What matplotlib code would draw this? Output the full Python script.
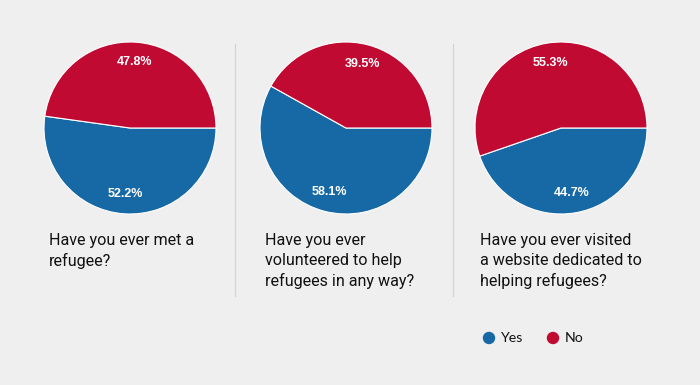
import matplotlib.pyplot as plt

# datos de las tres preguntas
preguntas = [
    "Have you ever met a\nrefugee?",
    "Have you ever\nvolunteered to help\nrefugees in any way?",
    "Have you ever visited\na website dedicated to\nhelping refugees?",
]
respuestas = ["Yes", "No"]
si = [52.2, 58.1, 44.7]
no = [47.8, 39.5, 55.3]

AZUL = "#1769a6"
ROJO = "#c10a32"
FONDO = "#efefef"

W, H = 700, 385
fig = plt.figure(figsize=(7, 3.85), dpi=100, facecolor=FONDO)

# capa de fondo en pixeles para separadores, textos y leyenda
base = fig.add_axes([0, 0, 1, 1])
base.set_xlim(0, W)
base.set_ylim(H, 0)
base.axis("off")

centros_x = [130, 346, 561]
centro_y = 128
radio = 86

for i in range(3):
    ax = fig.add_axes([(centros_x[i] - radio) / W, (H - centro_y - radio) / H,
                       2 * radio / W, 2 * radio / H])
    # el "No" ocupa el resto del circulo, como en el original
    etiquetas = iter([f"{si[i]}%", f"{no[i]}%"])
    ax.pie([si[i], 100 - si[i]], colors=[AZUL, ROJO], startangle=0,
           counterclock=False, autopct=lambda p: next(etiquetas),
           pctdistance=0.77,
           wedgeprops=dict(edgecolor="white", linewidth=0.8),
           textprops=dict(color="white", fontsize=9, fontweight="bold",
                          family="Liberation Sans"))
    ax.set_xlim(-1, 1)
    ax.set_ylim(-1, 1)

    base.text(centros_x[i] - 81, 233, preguntas[i], ha="left", va="top",
              fontsize=11.6, family="Roboto", color="#111111", linespacing=1.38)

# separadores verticales
for x in [235, 453]:
    base.plot([x, x], [44, 296], color="#d4d4d4", lw=0.9)

# leyenda
ley_x = [489, 553]
for x, c, t in zip(ley_x, [AZUL, ROJO], respuestas):
    base.scatter([x], [338], s=80, color=c, edgecolors="none")
    base.text(x + 12, 338, t, ha="left", va="center", fontsize=10.2,
              family="Lato", color="#111111")

fig.savefig("out.png", dpi=100, facecolor=FONDO)
